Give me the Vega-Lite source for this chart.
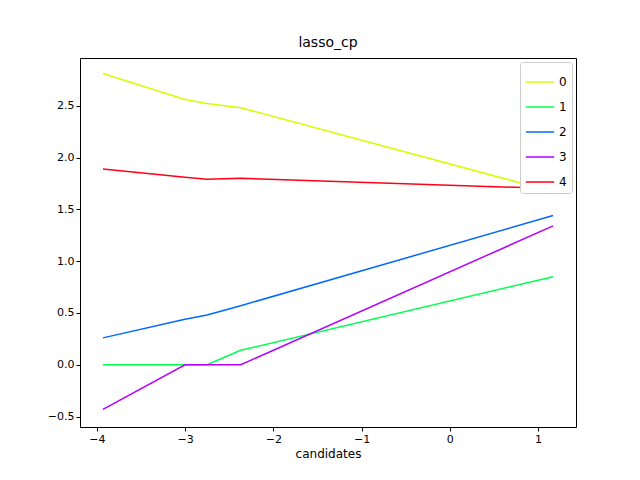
{
  "$schema": "https://vega.github.io/schema/vega-lite/v6.json",
  "width": 496,
  "height": 369,
  "autosize": "none",
  "padding": {"left": 80, "top": 58, "right": 64, "bottom": 53},
  "background": "white",
  "title": {"text": "lasso_cp", "font": "DejaVu Sans", "fontSize": 14, "fontWeight": "normal", "offset": 8},
  "config": {
    "font": "DejaVu Sans",
    "view": {"stroke": "black", "strokeWidth": 1},
    "axis": {"grid": false, "domain": false, "tickColor": "black", "labelColor": "black", "labelFontSize": 11, "titleFontSize": 12, "titleFontWeight": "normal", "tickSize": 4}
  },
  "data": {
    "values": [
      {"x": -3.93, "y": 2.81, "s": "0"}, {"x": -3.0, "y": 2.56, "s": "0"}, {"x": -2.75, "y": 2.52, "s": "0"}, {"x": -2.37, "y": 2.48, "s": "0"}, {"x": 1.17, "y": 1.67, "s": "0"},
      {"x": -3.93, "y": 0, "s": "1"}, {"x": -3.0, "y": 0, "s": "1"}, {"x": -2.75, "y": 0, "s": "1"}, {"x": -2.37, "y": 0.14, "s": "1"}, {"x": 1.17, "y": 0.85, "s": "1"},
      {"x": -3.93, "y": 0.26, "s": "2"}, {"x": -3.0, "y": 0.44, "s": "2"}, {"x": -2.75, "y": 0.48, "s": "2"}, {"x": -2.37, "y": 0.57, "s": "2"}, {"x": 1.17, "y": 1.44, "s": "2"},
      {"x": -3.93, "y": -0.43, "s": "3"}, {"x": -3.0, "y": 0, "s": "3"}, {"x": -2.75, "y": 0, "s": "3"}, {"x": -2.37, "y": 0, "s": "3"}, {"x": 1.17, "y": 1.34, "s": "3"},
      {"x": -3.93, "y": 1.89, "s": "4"}, {"x": -3.0, "y": 1.81, "s": "4"}, {"x": -2.75, "y": 1.79, "s": "4"}, {"x": -2.37, "y": 1.80, "s": "4"}, {"x": 1.17, "y": 1.70, "s": "4"}
    ]
  },
  "mark": {"type": "line", "strokeWidth": 1.5},
  "encoding": {
    "x": {"field": "x", "type": "quantitative", "title": "candidates", "scale": {"domain": [-4.19, 1.43], "nice": false, "zero": false}, "axis": {"values": [-4, -3, -2, -1, 0, 1], "titlePadding": 4}},
    "y": {"field": "y", "type": "quantitative", "title": null, "scale": {"domain": [-0.6, 2.96], "nice": false, "zero": false}, "axis": {"values": [-0.5, 0, 0.5, 1, 1.5, 2, 2.5], "format": ".1f"}},
    "color": {"field": "s", "type": "nominal", "title": null,
      "scale": {"domain": ["0", "1", "2", "3", "4"], "range": ["#d4ff00", "#00ff50", "#0068ff", "#b400ff", "#ff0018"]},
      "legend": {"orient": "top-right", "offset": 4, "symbolType": "stroke", "symbolSize": 800, "symbolStrokeWidth": 1.5, "labelFontSize": 12, "fillColor": "white", "strokeColor": "#cccccc", "padding": 5, "cornerRadius": 3, "rowPadding": 4}
    }
  }
}
